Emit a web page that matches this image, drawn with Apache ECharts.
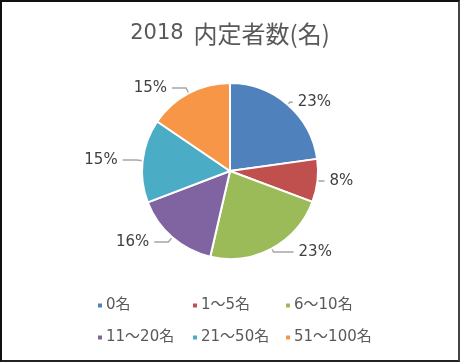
<!DOCTYPE html>
<html><head><meta charset="utf-8">
<script src="https://cdn.jsdelivr.net/npm/echarts@6/dist/echarts.min.js"></script>
<style>
html,body{margin:0;padding:0;background:#fff;}
#frame{position:absolute;left:0;top:0;width:460px;height:362px;box-sizing:border-box;border-left:2px solid #111;border-top:2px solid #111;border-right:2px solid #444;border-bottom:2px solid #222;}
#c{position:absolute;left:0;top:0;width:460px;height:362px;}
</style></head>
<body><div id="c"></div><div id="frame"></div>
<script>
const titleYear = '2018';
const titleMain = '内定者数(名)';
const categories = ['0名', '1～5名', '6～10名', '11～20名', '21～50名', '51～100名'];
const values = [22.8, 7.9, 22.9, 15.6, 15.3, 15.5];
const colors = ['#4F81BD', '#C0504D', '#9BBB59', '#8064A2', '#4BACC6', '#F79646'];
// legend grid layout (style): columns x and rows y
const legendCols = [96, 191, 284];
const legendRows = [298, 330];
// label line styling per slice (style, not data)
const lineLen1 = [3, 3, 4, 6, 6, 6];
const lineLen2 = [3, 4, 20, 14, 14, 14];

const latin = '"DejaVu Sans","Noto Sans CJK JP",sans-serif';
const cjk = '"Noto Sans CJK JP",sans-serif';
const chart = echarts.init(document.getElementById('c'));
const legends = categories.map((n, i) => ({
  orient: 'horizontal', padding: 0,
  left: legendCols[i % 3], top: legendRows[Math.floor(i / 3)],
  itemWidth: 6, itemHeight: 6, itemGap: 0, icon: 'rect',
  textStyle: {color: '#595959', fontSize: 15, fontFamily: latin, padding: [0, 0, 0, -2]},
  data: [n]
}));
chart.setOption({
  animation: false,
  color: colors,
  title: {text: '{y|' + titleYear + '}  {m|' + titleMain + '}', left: 'center', top: 17,
    textStyle: {fontWeight: 'normal', rich: {
      y: {color: '#595959', fontSize: 21, fontWeight: 'normal', fontFamily: latin},
      m: {color: '#595959', fontSize: 24, fontWeight: 'normal', fontFamily: cjk}
    }}},
  legend: legends,
  series: [{
    type: 'pie',
    center: [230, 171],
    radius: [0, 88],
    startAngle: 90,
    clockwise: true,
    percentPrecision: 0,
    data: categories.map((n, i) => ({name: n, value: values[i],
      labelLine: {length: lineLen1[i], length2: lineLen2[i]}})),
    itemStyle: {borderColor: '#fff', borderWidth: 2},
    label: {show: true, position: 'outside', formatter: '{d}%', color: '#404040', fontSize: 15, fontFamily: latin},
    labelLine: {show: true, lineStyle: {color: '#A6A6A6', width: 1.5}}
  }]
});
</script></body></html>
